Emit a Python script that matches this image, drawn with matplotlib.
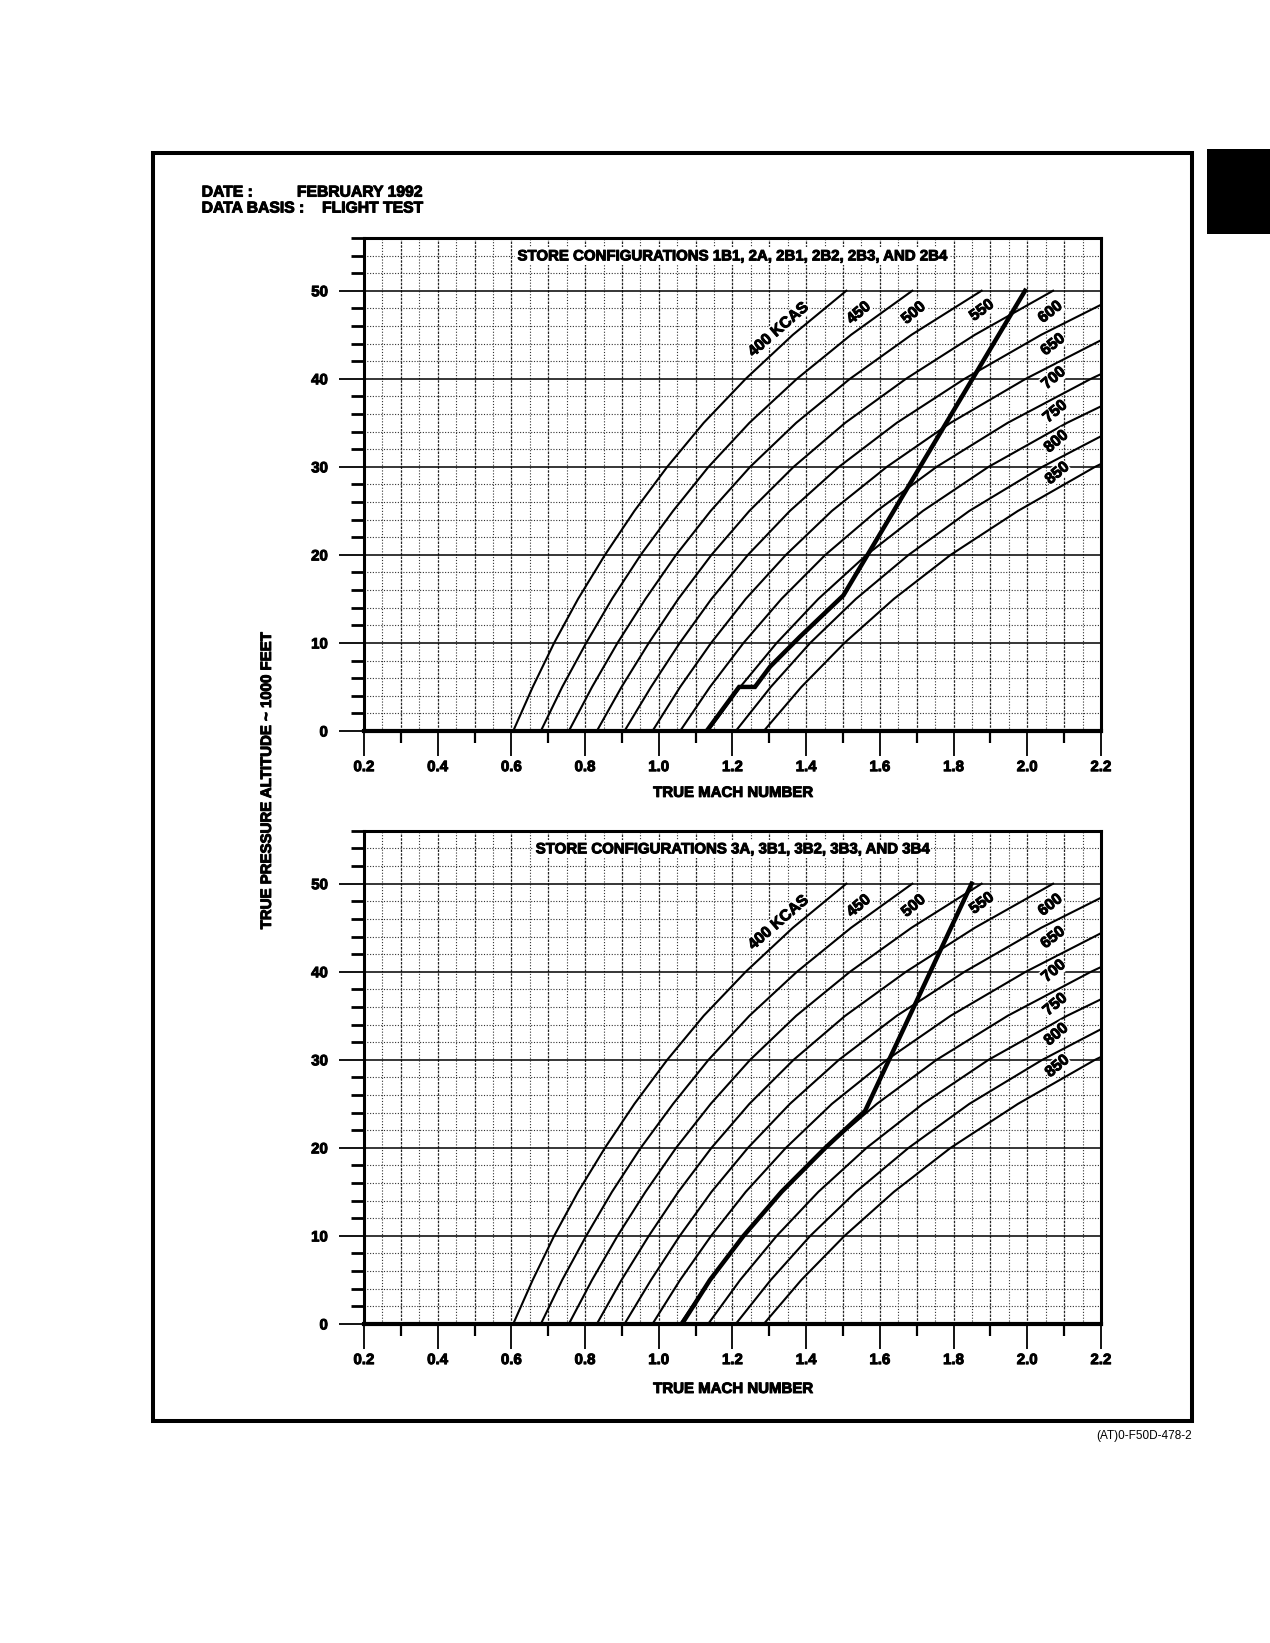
import numpy as np
import matplotlib
matplotlib.use('Agg')
import matplotlib.pyplot as plt
import matplotlib.patheffects as pe
from matplotlib.patches import Rectangle

plt.rcParams['font.family'] = ['Liberation Sans', 'DejaVu Sans']
plt.rcParams['font.weight'] = 'bold'

# altitude stations (1000 ft) at which the KCAS curves were read
alt_levels = [0, 5, 10, 15, 20, 25, 30, 35, 40, 45, 50]

# true Mach
mach_400 = [0.605, 0.658, 0.716, 0.781, 0.854, 0.934, 1.023, 1.122, 1.236, 1.364, 1.509]
mach_450 = [0.680, 0.738, 0.803, 0.873, 0.951, 1.039, 1.135, 1.246, 1.375, 1.522, 1.688]
mach_500 = [0.756, 0.819, 0.888, 0.964, 1.047, 1.141, 1.248, 1.373, 1.519, 1.686, 1.876]
mach_550 = [0.832, 0.899, 0.973, 1.053, 1.143, 1.246, 1.366, 1.506, 1.671, 1.858, 2.070]
mach_600 = [0.907, 0.979, 1.057, 1.143, 1.242, 1.356, 1.489, 1.646, 1.830, 2.038, 2.276]
mach_650 = [0.983, 1.058, 1.142, 1.236, 1.345, 1.470, 1.619, 1.792, 1.996, 2.229]
mach_700 = [1.058, 1.139, 1.230, 1.333, 1.452, 1.592, 1.754, 1.947, 2.173, 2.428]
mach_750 = [1.134, 1.221, 1.320, 1.433, 1.564, 1.717, 1.895, 2.108, 2.354]
mach_800 = [1.209, 1.304, 1.411, 1.535, 1.678, 1.843, 2.041, 2.270]
mach_850 = [1.285, 1.387, 1.504, 1.638, 1.792, 1.975, 2.184, 2.433]

kcas_curves = [mach_400, mach_450, mach_500, mach_550, mach_600,
               mach_650, mach_700, mach_750, mach_800, mach_850]
kcas_labels = ['400 KCAS', '450', '500', '550', '600', '650', '700', '750', '800', '850']
# label anchor (mach, altitude) and rotation
label_mach = [1.324, 1.542, 1.691, 1.876, 2.062, 2.069, 2.071, 2.075, 2.078, 2.081]
label_alt = [45.6, 47.5, 47.5, 47.8, 47.6, 43.9, 40.1, 36.3, 32.9, 29.3]
label_rot = [41, 40, 40, 36, 38, 38, 40, 40, 40, 40]

# heavy limit lines
limit_top_mach = [1.130, 1.218, 1.261, 1.302, 1.383, 1.501, 1.994]
limit_top_alt = [0, 5.0, 5.0, 7.3, 10.7, 15.4, 50]
limit_bot_mach = [1.063, 1.139, 1.230, 1.333, 1.452, 1.560, 1.849]
limit_bot_alt = [0, 5, 10, 15, 20, 24.2, 50]

x_ticks = [0.2, 0.4, 0.6, 0.8, 1.0, 1.2, 1.4, 1.6, 1.8, 2.0, 2.2]
x_tick_labels = ['0.2', '0.4', '0.6', '0.8', '1.0', '1.2', '1.4', '1.6', '1.8', '2.0', '2.2']
y_ticks = [0, 10, 20, 30, 40, 50]
y_tick_labels = ['0', '10', '20', '30', '40', '50']

title_top = 'STORE CONFIGURATIONS 1B1, 2A, 2B1, 2B2, 2B3, AND 2B4'
title_bot = 'STORE CONFIGURATIONS 3A, 3B1, 3B2, 3B3, AND 3B4'

FS = 10.8
heavy = [pe.withStroke(linewidth=0.7, foreground='black')]


def draw_panel(ax, title, lim_mach, lim_alt):
    ax.set_xlim(0.2, 2.2)
    ax.set_ylim(0, 56)

    # grid
    for k in range(5, 44):
        xv = k * 0.05
        if k % 2 == 0:
            ax.axvline(xv, color='0.15', lw=0.9, ls=(0, (2, 1)), zorder=1)
        else:
            ax.axvline(xv, color='0.2', lw=0.8, ls=(0, (1, 1.6)), zorder=1)
    for yv in range(2, 56, 2):
        if yv % 10 == 0:
            ax.axhline(yv, color='black', lw=1.1, zorder=1)
        else:
            ax.axhline(yv, color='0.2', lw=0.8, ls=(0, (1, 1.5)), zorder=1)

    for m in kcas_curves:
        ax.plot(m, alt_levels[:len(m)], color='black', lw=1.5, zorder=2)
    ax.plot(lim_mach, lim_alt, color='black', lw=3.2, zorder=3,
            solid_joinstyle='miter')

    for lab, lx, ly, rot in zip(kcas_labels, label_mach, label_alt, label_rot):
        ax.text(lx, ly, lab, rotation=rot, rotation_mode='anchor',
                ha='center', va='center', fontsize=11.2, fontweight='bold',
                path_effects=heavy,
                bbox=dict(facecolor='white', edgecolor='none', pad=0.5), zorder=5)

    ax.text(1.199, 53.9, title, ha='center', va='center', fontsize=FS,
            fontweight='bold', zorder=5, path_effects=heavy,
            bbox=dict(facecolor='white', edgecolor='none', pad=1.5))

    ax.set_xticks(x_ticks)
    ax.set_xticklabels(x_tick_labels, fontsize=FS, fontweight='bold', path_effects=heavy)
    ax.set_xticks([0.3, 0.5, 0.7, 0.9, 1.1, 1.3, 1.5, 1.7, 1.9, 2.1], minor=True)
    ax.set_yticks(y_ticks)
    ax.set_yticklabels(y_tick_labels, fontsize=FS, fontweight='bold', path_effects=heavy)
    ax.set_yticks([v for v in range(2, 57, 2) if v % 10 != 0], minor=True)
    ax.tick_params(axis='x', which='major', direction='out', length=18, width=1.3, pad=3)
    ax.tick_params(axis='x', which='minor', direction='out', length=8.5, width=1.6)
    ax.tick_params(axis='y', which='major', direction='out', length=18, width=1.3, pad=8)
    ax.tick_params(axis='y', which='minor', direction='out', length=9.5, width=2.0)
    for s in ax.spines.values():
        s.set_linewidth(2.2)
        s.set_zorder(6)
    ax.spines['bottom'].set_linewidth(3.0)


fig = plt.figure(figsize=(12.7, 16.43), dpi=100)

ax_top = fig.add_axes([0.2866, 0.5551, 0.5803, 0.3001])
ax_bot = fig.add_axes([0.2866, 0.1942, 0.5803, 0.3001])
draw_panel(ax_top, title_top, limit_top_mach, limit_top_alt)
draw_panel(ax_bot, title_bot, limit_bot_mach, limit_bot_alt)

fig.text(0.5772, 0.5174, 'TRUE MACH NUMBER', ha='center', va='center', fontsize=FS,
         path_effects=heavy)
fig.text(0.5772, 0.1546, 'TRUE MACH NUMBER', ha='center', va='center', fontsize=FS,
         path_effects=heavy)
fig.text(0.2102, 0.5247, 'TRUE PRESSURE ALTITUDE ~ 1000 FEET', rotation=90,
         ha='center', va='center', fontsize=FS, path_effects=heavy)

fig.text(0.1588, 0.8831, 'DATE :', ha='left', va='center', fontsize=11.3, path_effects=heavy)
fig.text(0.1588, 0.8734, 'DATA BASIS :', ha='left', va='center', fontsize=11.3,
         path_effects=heavy)
fig.text(0.3331, 0.8831, 'FEBRUARY 1992', ha='right', va='center', fontsize=11.3,
         path_effects=heavy)
fig.text(0.3331, 0.8734, 'FLIGHT TEST', ha='right', va='center', fontsize=11.3,
         path_effects=heavy)

fig.text(0.9386, 0.126, '(AT)0-F50D-478-2', ha='right', va='center',
         fontsize=8.5, fontweight='normal')

fig.add_artist(Rectangle((0.1205, 0.1351), 0.8181, 0.7718, transform=fig.transFigure,
                         fill=False, lw=2.9, edgecolor='black'))
fig.add_artist(Rectangle((0.9504, 0.8576), 0.06, 0.0517, transform=fig.transFigure,
                         facecolor='black', edgecolor='none'))

fig.savefig('out.png', dpi=100, facecolor='white')
